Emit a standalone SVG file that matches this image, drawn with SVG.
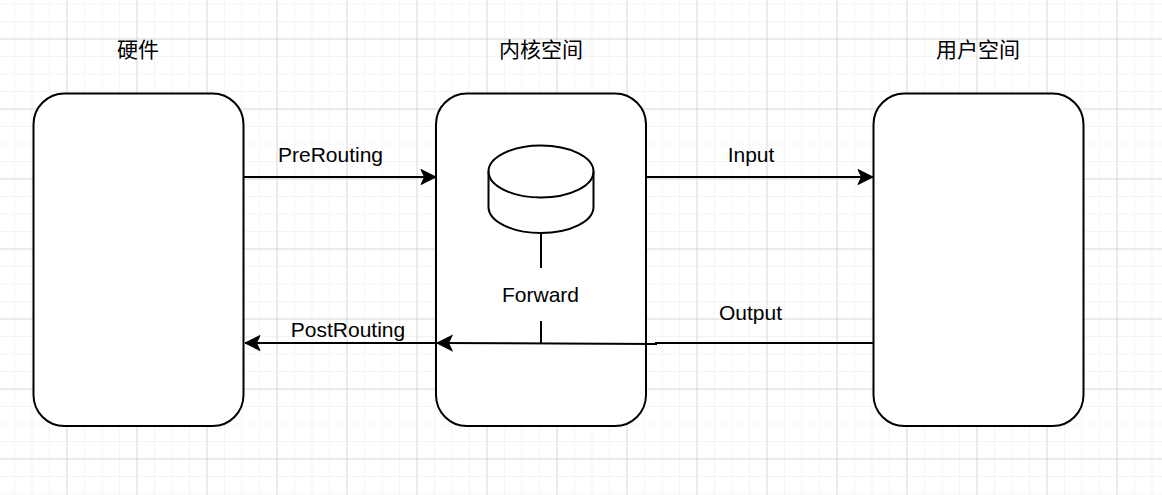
<svg xmlns="http://www.w3.org/2000/svg" width="1162" height="495" viewBox="0 0 1162 495">
<style>
.node{fill:#fff;stroke:#000;stroke-width:2}
.conn{fill:none;stroke:#000;stroke-width:2}
.ah{fill:#000;stroke:#000;stroke-width:1}
text{font-family:"Liberation Sans","Noto Sans CJK SC",sans-serif;font-size:21px;fill:#000;text-anchor:middle}
</style>
<defs>
<pattern id="minor" x="-2.500" y="4.500" width="17.500" height="17.500" patternUnits="userSpaceOnUse"><path d="M17.500 0V17.500M0 17.500H17.500" fill="none" stroke="#f4f4f4" stroke-width="2"/></pattern>
<pattern id="major" x="-2.500" y="-30.500" width="70" height="70" patternUnits="userSpaceOnUse"><path d="M70 0V70M0 70H70" fill="none" stroke="#d2d2d2" stroke-width="1.500"/></pattern>
<marker id="arrow" viewBox="0 0 18 18" refX="16" refY="9" markerWidth="18" markerHeight="18" markerUnits="userSpaceOnUse" orient="auto"><path class="ah" d="M16 9L1 1.500L4.500 9L1 16.500Z"/></marker>
</defs>
<rect width="1162" height="495" fill="#fff"/>
<rect width="1162" height="495" fill="url(#minor)"/>
<rect width="1162" height="495" fill="url(#major)"/>
<g id="hardware"><rect class="node" x="33.500" y="93.500" width="210" height="332.500" rx="31" ry="31"/><text x="138" y="57">硬件</text></g>
<g id="kernel"><rect class="node" x="436" y="93.500" width="210" height="332.500" rx="31" ry="31"/><text x="541" y="57">内核空间</text></g>
<g id="user"><rect class="node" x="873.500" y="93.500" width="210" height="332.500" rx="31" ry="31"/><text x="978" y="57">用户空间</text></g>
<g id="forward"><path class="node" d="M488.500 171.500A52.500 26 0 0 1 593.500 171.500V207A52.500 26 0 0 1 488.500 207Z"/><path class="conn" d="M488.500 171.500A52.500 26 0 0 0 593.500 171.500"/></g>
<g id="connectors">
<path class="conn" marker-end="url(#arrow)" d="M244 177H436"/>
<path class="conn" marker-end="url(#arrow)" d="M646 177H873"/>
<path class="conn" marker-end="url(#arrow)" d="M873 343H656V344L437 343"/>
<path class="conn" marker-end="url(#arrow)" d="M436 343H245"/>
<path class="conn" d="M541 233V268M541 321V343"/>
</g>
<g id="labels">
<text x="330.500" y="162">PreRouting</text>
<text x="751" y="162">Input</text>
<text x="540.500" y="302">Forward</text>
<text x="750.500" y="320">Output</text>
<text x="348" y="337">PostRouting</text>
</g>
</svg>
